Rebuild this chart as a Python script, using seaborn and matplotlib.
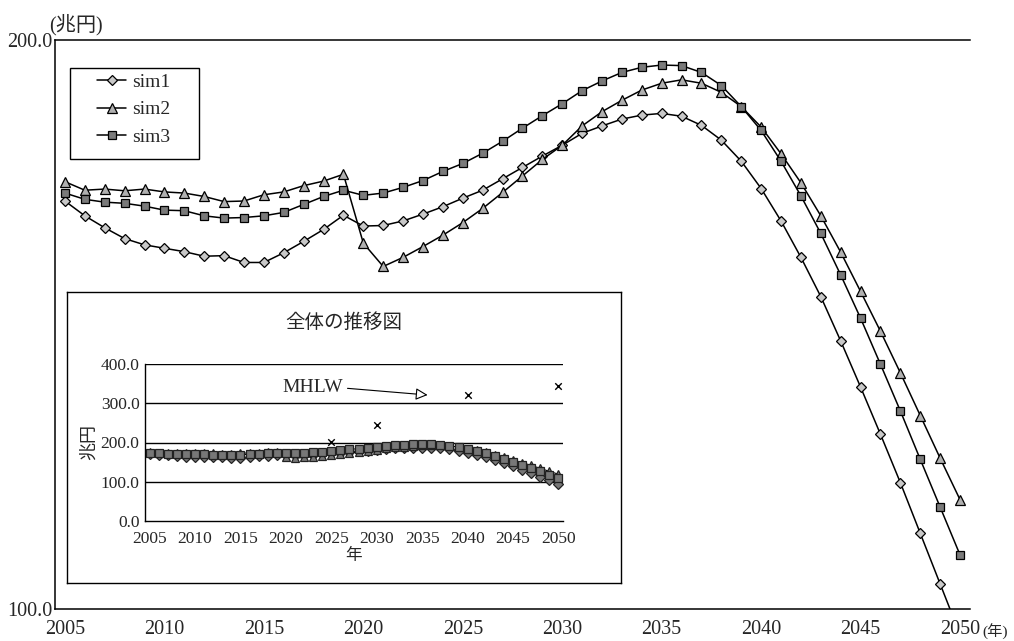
import numpy as np
import pandas as pd
import matplotlib
matplotlib.use("Agg")
import matplotlib.pyplot as plt
from matplotlib.ticker import FixedLocator
from matplotlib.patches import Rectangle
import seaborn as sns

# データ
years = list(range(2005, 2051))

sim1 = [171.7, 169.1, 167.0, 165.1, 164.0, 163.4, 162.8, 162.0, 162.1, 160.9,
        160.9, 162.6, 164.6, 166.7, 169.2, 167.3, 167.4, 168.2, 169.4, 170.7,
        172.2, 173.6, 175.6, 177.6, 179.6, 181.5, 183.6, 184.9, 186.1, 186.8,
        187.1, 186.6, 185.0, 182.4, 178.7, 173.9, 168.2, 161.8, 154.9, 147.1,
        139.0, 130.7, 122.2, 113.3, 104.4, 95.5]

sim2 = [175.1, 173.6, 173.8, 173.5, 173.8, 173.3, 173.1, 172.5, 171.6, 171.7,
        172.8, 173.3, 174.4, 175.2, 176.4, 164.3, 160.2, 161.8, 163.7, 165.7,
        167.9, 170.4, 173.2, 176.1, 179.0, 181.5, 184.9, 187.4, 189.4, 191.2,
        192.4, 193.0, 192.4, 190.8, 188.3, 184.7, 180.0, 174.9, 169.1, 162.7,
        155.8, 148.8, 141.5, 134.0, 126.5, 119.2]

sim3 = [173.1, 172.0, 171.5, 171.3, 170.8, 170.1, 170.0, 169.1, 168.7, 168.8,
        169.1, 169.7, 171.1, 172.5, 173.6, 172.7, 173.1, 174.1, 175.3, 176.9,
        178.3, 180.1, 182.2, 184.5, 186.7, 188.8, 191.1, 192.8, 194.3, 195.2,
        195.6, 195.5, 194.3, 192.0, 188.3, 184.1, 178.7, 172.6, 166.0, 158.7,
        151.1, 143.0, 134.8, 126.3, 117.9, 109.5]

mhlw_years = [2025, 2030, 2040, 2050]
mhlw = [201, 245, 321, 344]

series = {"sim1": sim1, "sim2": sim2, "sim3": sim3}
styles = {"sim1": ("D", "#c8c8c8", 5.5),
          "sim2": ("^", "#b0b0b0", 7),
          "sim3": ("s", "#7a7a7a", 6)}

sns.set_style("white")
plt.rcParams["font.family"] = ["Liberation Serif", "Noto Sans CJK JP"]

W, H = 1014, 641
fig = plt.figure(figsize=(W / 100, H / 100), dpi=100)

# メインの軸
ax = fig.add_axes([55 / W, 32 / H, 915 / W, 569 / H])
for name, vals in series.items():
    m, fc, ms = styles[name]
    sns.lineplot(x=years, y=vals, ax=ax, color="black", lw=1.1, marker=m,
                 markersize=ms, markerfacecolor=fc, markeredgecolor="black",
                 markeredgewidth=0.9, label=name)

ax.set_xlim(2004.5, 2050.5)
ax.set_ylim(100, 200)
ax.set_xticks(range(2005, 2051, 5))
ax.xaxis.set_minor_locator(FixedLocator(np.arange(2005.5, 2050.5, 1)))
ax.tick_params(axis="x", which="major", length=0, labelsize=14.5, pad=8)
ax.tick_params(axis="x", which="minor", direction="in", length=5, width=0.9)
ax.set_yticks([100, 200])
ax.set_yticklabels(["100.0", "200.0"])
ax.tick_params(axis="y", length=0, labelsize=14.5, pad=2)
for s in ["left", "bottom", "top"]:
    ax.spines[s].set_color("black")
    ax.spines[s].set_linewidth(1.1)
ax.spines["right"].set_visible(False)
ax.set_xlabel("")
ax.set_ylabel("")

# 凡例（枠は別に描く）
ax.legend(loc="upper left", bbox_to_anchor=(97 / W, 1 - 73 / H),
          bbox_transform=fig.transFigure, fontsize=14, frameon=False,
          handlelength=1.5, labelspacing=0.52, borderpad=0,
          handletextpad=0.3, borderaxespad=0)
fig.patches.append(Rectangle((70 / W, 1 - 159 / H), 129 / W, 91 / H,
                             transform=fig.transFigure, fill=False,
                             edgecolor="black", lw=1.0, zorder=5))

fig.text(49 / W, 1 - 25 / H, "(兆円)", fontsize=14.5, ha="left", va="center")
fig.text(982 / W, 1 - 632 / H, "(年)", fontsize=11, ha="left", va="center")

# 挿入図の枠
box = fig.add_axes([67 / W, 58 / H, 554 / W, 291 / H])
box.set_xticks([])
box.set_yticks([])
for s in box.spines.values():
    s.set_color("black")
    s.set_linewidth(1.0)
box.set_facecolor("white")
box.text(0.5, 1 - 31 / 291, "全体の推移図", transform=box.transAxes,
         fontsize=14, ha="center", va="center")

# 挿入図
axi = fig.add_axes([145 / W, 120 / H, 418 / W, 157 / H])
for name, vals in series.items():
    m, fc, ms = styles[name]
    sns.lineplot(x=years, y=vals, ax=axi, color="black", lw=0.8, marker=m,
                 markersize=5.5, markerfacecolor="#777777",
                 markeredgecolor="#222222", markeredgewidth=0.9, legend=False)
sns.scatterplot(x=mhlw_years, y=mhlw, ax=axi, marker="x", color="black",
                s=22, linewidth=1.0, legend=False)

axi.set_xlim(2004.5, 2050.5)
axi.set_ylim(0, 400)
for v in [100, 200, 300, 400]:
    axi.axhline(v, color="black", lw=1.0, zorder=0)
axi.set_yticks([0, 100, 200, 300, 400])
axi.set_yticklabels(["0.0", "100.0", "200.0", "300.0", "400.0"])
axi.set_xticks(range(2005, 2051, 5))
axi.xaxis.set_minor_locator(FixedLocator(np.arange(2005.5, 2050.5, 1)))
axi.tick_params(axis="x", which="major", length=0, labelsize=12.5, pad=7)
axi.tick_params(axis="x", which="minor", direction="in", length=3, width=0.8)
axi.tick_params(axis="y", length=0, labelsize=12.5, pad=4)
axi.spines["right"].set_visible(False)
axi.spines["top"].set_visible(False)
for s in ["left", "bottom"]:
    axi.spines[s].set_color("black")
    axi.spines[s].set_linewidth(1.0)
axi.set_xlabel("年", fontsize=12, labelpad=1)
axi.set_ylabel("兆円", fontsize=13, labelpad=2)

axi.annotate("MHLW", xy=(2035.6, 321), xytext=(2019.6, 339),
             fontsize=14, ha="left", va="center",
             arrowprops=dict(arrowstyle="-|>", fc="white", ec="black",
                             lw=0.8, mutation_scale=18, relpos=(1, 0.5),
                             shrinkA=1, shrinkB=0))

plt.savefig("out.png", dpi=100)
